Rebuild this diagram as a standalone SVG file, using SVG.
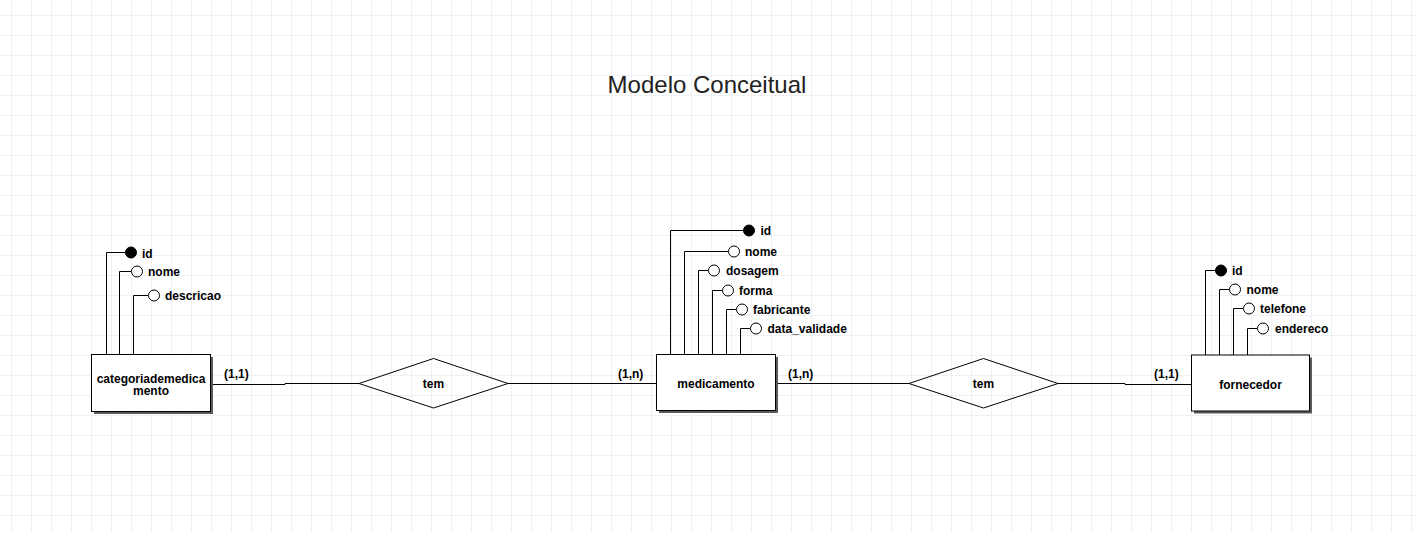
<svg xmlns="http://www.w3.org/2000/svg" width="1416" height="533" viewBox="0 0 1416 533">
<defs>
<pattern id="grid" x="11" y="15" width="20" height="20" patternUnits="userSpaceOnUse">
<path d="M0.5,0 V20 M0,0.5 H20" fill="none" stroke="#eef0f3" stroke-width="1"/>
</pattern>
<style>
.ent{fill:#fff;stroke:#000;stroke-width:1}
.shd{fill:#5a5a5a}
.ln{fill:none;stroke:#000;stroke-width:1}
.at{fill:#fff;stroke:#000;stroke-width:1}
.pk{fill:#000;stroke:#000;stroke-width:1}
.lb{font-family:"Liberation Sans",Arial,sans-serif;font-size:12px;font-weight:bold;fill:#000}
.mid{text-anchor:middle}
.title{font-family:"Liberation Sans",Arial,sans-serif;font-size:24px;fill:#222;text-anchor:middle}
</style>
</defs>
<rect width="1416" height="533" fill="#fff"/>
<rect width="1416" height="533" fill="url(#grid)"/>
<text class="title" x="707" y="93">Modelo Conceitual</text>

<g id="connectors">
<path class="ln" d="M211,384.5 H285 V383.5 H359"/>
<path class="ln" d="M508,383.5 H657"/>
<path class="ln" d="M776,383.5 H909"/>
<path class="ln" d="M1058,383.5 H1125 V384.5 H1192"/>
<text class="lb" x="224" y="378">(1,1)</text>
<text class="lb" x="618" y="378">(1,n)</text>
<text class="lb" x="788" y="378">(1,n)</text>
<text class="lb" x="1154" y="378">(1,1)</text>
</g>

<g id="categoriademedicamento">
<path class="ln" d="M106.5,354 V252.5 H125 M119.5,354 V271.5 H131 M133.5,354 V295.5 H148"/>
<circle class="pk" cx="131" cy="252.5" r="5.5"/>
<circle class="at" cx="137" cy="271.5" r="5.5"/>
<circle class="at" cx="154" cy="295.5" r="5.5"/>
<text class="lb" x="142" y="257.5">id</text>
<text class="lb" x="148" y="276">nome</text>
<text class="lb" x="165" y="300">descricao</text>
<rect class="shd" x="94" y="357" width="119" height="57"/>
<rect class="ent" x="91.5" y="354.5" width="119" height="57"/>
<text class="lb mid" x="151" y="382.5">categoriademedica</text>
<text class="lb mid" x="151" y="394.5">mento</text>
</g>

<g id="rel1">
<polygon class="ln" points="359,383.5 433.5,358.5 508,383.5 433.5,408"/>
<text class="lb mid" x="433.5" y="387.5">tem</text>
</g>

<g id="medicamento">
<path class="ln" d="M670.5,354 V230.5 H743 M684.5,354 V251.5 H728 M698.5,354 V270.5 H708 M712.5,354 V290.5 H722 M726.5,354 V309.5 H736 M740.5,354 V328.5 H750"/>
<circle class="pk" cx="749" cy="230.5" r="5.5"/>
<circle class="at" cx="734" cy="251.5" r="5.5"/>
<circle class="at" cx="714" cy="270.5" r="5.5"/>
<circle class="at" cx="728" cy="290.5" r="5.5"/>
<circle class="at" cx="742" cy="309.5" r="5.5"/>
<circle class="at" cx="756" cy="328.5" r="5.5"/>
<text class="lb" x="760.5" y="235">id</text>
<text class="lb" x="745" y="256">nome</text>
<text class="lb" x="726" y="275">dosagem</text>
<text class="lb" x="739" y="295">forma</text>
<text class="lb" x="753" y="314">fabricante</text>
<text class="lb" x="767.5" y="333">data_validade</text>
<rect class="shd" x="659" y="357" width="119" height="56"/>
<rect class="ent" x="656.5" y="354.5" width="119" height="56"/>
<text class="lb mid" x="716" y="388">medicamento</text>
</g>

<g id="rel2">
<polygon class="ln" points="909,383.5 983.5,358.5 1058,383.5 983.5,408"/>
<text class="lb mid" x="983.5" y="387.5">tem</text>
</g>

<g id="fornecedor">
<path class="ln" d="M1205.5,355 V270.5 H1215 M1219.5,355 V289.5 H1229 M1233.5,355 V308.5 H1243 M1247.5,355 V328.5 H1257"/>
<circle class="pk" cx="1221" cy="270.5" r="5.5"/>
<circle class="at" cx="1235" cy="289.5" r="5.5"/>
<circle class="at" cx="1249" cy="308.5" r="5.5"/>
<circle class="at" cx="1263" cy="328.5" r="5.5"/>
<text class="lb" x="1232" y="275">id</text>
<text class="lb" x="1246.5" y="294">nome</text>
<text class="lb" x="1260" y="313">telefone</text>
<text class="lb" x="1275" y="333">endereco</text>
<rect class="shd" x="1194" y="357.5" width="118" height="56"/>
<rect class="ent" x="1191.5" y="355" width="118" height="56"/>
<text class="lb mid" x="1250.5" y="388.5">fornecedor</text>
</g>
</svg>
